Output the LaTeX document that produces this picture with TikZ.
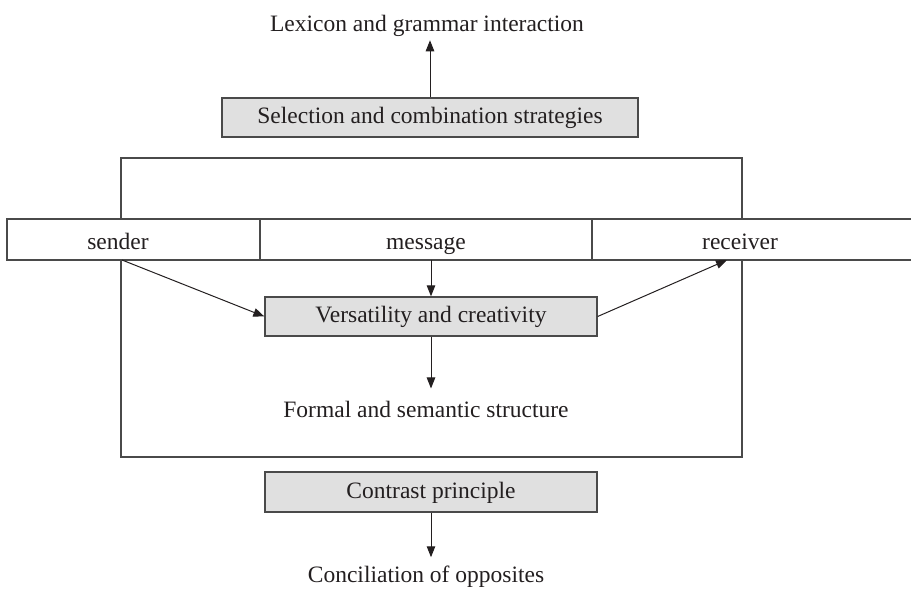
\documentclass[tikz,border=0pt]{standalone}
\usepackage{fontspec}
\setmainfont{Liberation Serif}
\usetikzlibrary{arrows.meta}
\definecolor{linegray}{HTML}{4A4A4A}
\definecolor{boxfill}{HTML}{E0E0E0}
\definecolor{txt}{HTML}{231F20}
\begin{document}
\begin{tikzpicture}[x=1pt,y=-1pt,
  every node/.style={font=\fontsize{23.5}{28}\selectfont, text=txt},
  graybox/.style={draw=linegray, fill=boxfill, line width=1.3pt, minimum height=39pt, inner sep=0pt, text height=17pt, text depth=4.5pt},
  cell/.style={draw=linegray, fill=white, line width=1.3pt, minimum height=41pt, inner sep=0pt, outer sep=0pt, anchor=north west},
  conn/.style={draw=txt, line width=1pt, -{Triangle[length=11pt,width=8.5pt]}},
  frame/.style={draw=linegray, line width=1.3pt},
  lbl/.style={anchor=base, inner sep=0pt}]
\useasboundingbox (0,0) rectangle (911,593);

% outer frame
\draw[frame] (121,158) rectangle (742,457);

% top
\node[lbl] (lex) at (427,32) {Lexicon and grammar interaction};
\node[graybox, minimum width=416pt] (sel) at (430,117.5) {Selection and combination strategies};

% strip
\node[cell, minimum width=253pt] (scell) at (7,219) {};
\node[cell, minimum width=332pt] (mcell) at (260,219) {};
\node[cell, minimum width=330pt] (rcell) at (592,219) {};
\node[lbl] (sender) at (118,250) {sender};
\node[lbl] (message) at (426,250) {message};
\node[lbl] (receiver) at (740,250) {receiver};
\coordinate (sfoot) at (122,260);
\coordinate (rfoot) at (727,260);

% middle
\node[graybox, minimum width=332pt] (vers) at (431,316.5) {Versatility and creativity};
\node[lbl] (form) at (426,418) {Formal and semantic structure};

% bottom
\node[graybox, minimum width=332pt, minimum height=40pt] (con) at (431,492) {Contrast principle};
\node[lbl] (conc) at (426,583) {Conciliation of opposites};

% connectors
\draw[conn, shorten >=3pt] (sel.north) -- (sel.north |- lex.south);
\draw[conn] (vers.north |- mcell.south) -- (vers.north);
\draw[conn] (sfoot) -- (vers.west);
\draw[conn] (vers.east) -- (rfoot);
\draw[conn, shorten >=13pt] (vers.south) -- (vers.south |- form.north);
\draw[conn, shorten >=9pt] (con.south) -- (con.south |- conc.north);
\end{tikzpicture}
\end{document}
